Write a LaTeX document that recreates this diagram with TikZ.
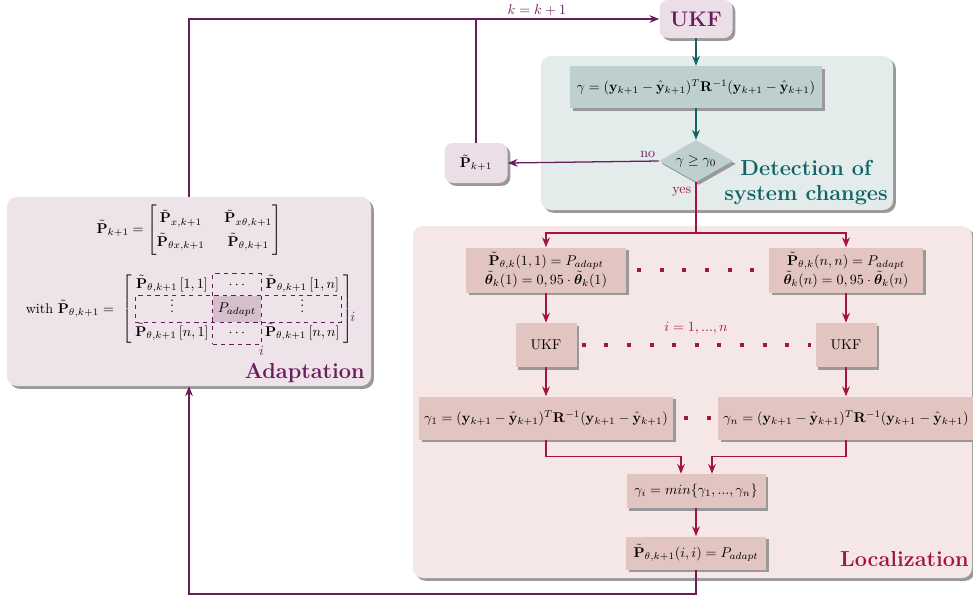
\documentclass[tikz,border=0pt]{standalone}
\usepackage{amsmath}
\usepackage{amssymb}
\usepackage{bm}
\usetikzlibrary{shapes.geometric,shadows,matrix,fit,calc,arrows.meta}

\definecolor{adpurple}{RGB}{106,27,92}
\definecolor{detteal}{RGB}{16,100,100}
\definecolor{loccrimson}{RGB}{163,21,64}
\definecolor{adbg}{RGB}{237,227,233}
\definecolor{detbg}{RGB}{228,235,235}
\definecolor{locbg}{RGB}{245,231,229}
\definecolor{detfill}{RGB}{189,208,207}
\definecolor{locfill}{RGB}{226,197,192}
\definecolor{ukffill}{RGB}{235,222,230}
\definecolor{cellhl}{RGB}{213,191,204}

\def\px{0.71pt}
\newcommand{\Ptil}{\tilde{\mathbf{P}}}
\newcommand{\yv}{\mathbf{y}}
\newcommand{\yh}{\hat{\mathbf{y}}}
\newcommand{\thv}{\tilde{\bm{\theta}}}

\begin{document}
\begin{tikzpicture}[x=\px, y=-\px, >={Stealth[length=7pt,width=5.5pt]}]
    \tikzstyle{boxshadow}=[drop shadow={shadow xshift=2pt, shadow yshift=-2pt, fill=black!40, opacity=1}]
    \tikzstyle{panel}=[rectangle, rounded corners=7pt, inner sep=0pt, boxshadow]
    \tikzstyle{ukfbox}=[rectangle, rounded corners=6pt, fill=ukffill, boxshadow, inner sep=2pt]
    \tikzstyle{detbox}=[rectangle, fill=detfill, boxshadow, inner sep=3pt]
    \tikzstyle{locbox}=[rectangle, fill=locfill, boxshadow, inner sep=3pt, align=center]
    \tikzstyle{paneltitle}=[font=\fontsize{15.4}{17.8}\selectfont\bfseries, inner sep=0pt]
    \tikzstyle{detline}=[->, draw=detteal, line width=0.9pt]
    \tikzstyle{locline}=[draw=loccrimson, line width=0.9pt]
    \tikzstyle{adline}=[draw=adpurple, line width=0.9pt]
    \tikzstyle{dotline}=[draw=loccrimson, line width=2.85pt, dash pattern=on 2.85pt off 13.2pt]
    \tikzstyle{dashbox}=[draw=adpurple, dashed, line width=0.8pt, inner sep=0pt]

    \useasboundingbox (0,0) rectangle (973,599);

    % background panels
    \node[panel, fill=detbg, minimum width=352*\px, minimum height=154*\px] (detect) at (717,133) {};
    \node[panel, fill=locbg, minimum width=559*\px, minimum height=352*\px] (local) at (692.5,402) {};
    \node[panel, fill=adbg, minimum width=364*\px, minimum height=189*\px] (adapt) at (189,291.5) {};

    % panel titles
    \node[paneltitle, text=detteal, align=center, anchor=south east] at (888,205) {Detection of\\system changes};
    \node[paneltitle, text=adpurple, anchor=base east] at (365,378) {Adaptation};
    \node[paneltitle, text=loccrimson, anchor=base east] at (969,566) {Localization};

    % detection of system changes
    \node[ukfbox, font=\fontsize{15}{17}\selectfont\bfseries, text=adpurple, minimum width=73*\px, minimum height=38*\px] (ukf) at (696,19) {UKF};
    \node[detbox, minimum width=252*\px, minimum height=42*\px] (gam) at (696,87)
        {$\gamma = (\yv_{k+1}-\yh_{k+1})^T\mathbf{R}^{-1}(\yv_{k+1}-\yh_{k+1})$};
    \node[diamond, fill=detfill, boxshadow, aspect=1.8, inner sep=0pt, minimum width=74*\px, minimum height=42*\px] (dec) at (696,161) {$\gamma \geq \gamma_0$};
    \node[ukfbox, minimum width=63*\px, minimum height=40*\px] (pk) at (476,163) {$\Ptil_{k+1}$};

    \draw[detline] (ukf) -- (gam);
    \draw[detline] (gam) -- (dec);
    \draw[adline, ->] (dec.west) -- node[pos=0, above left, text=adpurple, inner sep=2pt] {no} (pk.east);

    % localization
    \node[locbox, minimum width=160*\px, minimum height=45*\px] (set1) at (546,270)
        {$\Ptil_{\theta,k}(1,1) = P_{adapt}$\\$\thv_k(1) = 0,95\cdot\thv_k(1)$};
    \node[locbox, minimum width=154*\px, minimum height=45*\px] (setn) at (846,270)
        {$\Ptil_{\theta,k}(n,n) = P_{adapt}$\\$\thv_k(n) = 0,95\cdot\thv_k(n)$};
    \node[locbox, minimum width=61*\px, minimum height=44*\px] (ukf1) at (546,345) {UKF};
    \node[locbox, minimum width=61*\px, minimum height=44*\px] (ukfn) at (846,345) {UKF};
    \node[locbox, minimum width=254*\px, minimum height=43*\px] (gam1) at (546,418)
        {$\gamma_1 = (\yv_{k+1}-\yh_{k+1})^T\mathbf{R}^{-1}(\yv_{k+1}-\yh_{k+1})$};
    \node[locbox, minimum width=256*\px, minimum height=43*\px] (gamn) at (846,418)
        {$\gamma_n = (\yv_{k+1}-\yh_{k+1})^T\mathbf{R}^{-1}(\yv_{k+1}-\yh_{k+1})$};
    \node[locbox, minimum width=139*\px, minimum height=34*\px] (gmin) at (696,491) {$\gamma_i = min\{\gamma_1,...,\gamma_n\}$};
    \node[locbox, minimum width=140*\px, minimum height=33*\px] (pnew) at (696,553) {$\Ptil_{\theta,k+1}(i,i) = P_{adapt}$};

    \coordinate (split) at (696,233);
    \draw[locline] (dec.south) -- node[pos=0, below left, text=loccrimson, inner sep=3pt] {yes} (split);
    \draw[locline, ->] (split) -| (set1);
    \draw[locline, ->] (split) -| (setn);
    \draw[locline, ->] (set1) -- (ukf1);
    \draw[locline, ->] (setn) -- (ukfn);
    \draw[locline, ->] (ukf1) -- (gam1);
    \draw[locline, ->] (ukfn) -- (gamn);
    \draw[locline, ->] (gam1.south) |- ($(gmin.north)+(-15,-17)$) -- ($(gmin.north)+(-15,0)$);
    \draw[locline, ->] (gamn.south) |- ($(gmin.north)+(16,-17)$) -- ($(gmin.north)+(16,0)$);
    \draw[locline, ->] (gmin) -- (pnew);

    % dotted rows
    \draw[dotline, shorten <=7.8pt, shorten >=8.5pt] (set1) -- (setn);
    \draw[dotline, shorten <=3.5pt, shorten >=2.8pt] (ukf1) -- node[above=3pt, text=loccrimson] {$i=1,...,n$} (ukfn);
    \draw[dotline, shorten <=7.8pt, shorten >=4.3pt] (gam1) -- (gamn);

    % adaptation
    \node (peq) at (189,230) {$\Ptil_{k+1} = \renewcommand{\arraystretch}{1.4}\setlength{\arraycolsep}{7pt}\begin{bmatrix}
        \Ptil_{x,k+1} & \Ptil_{x\theta,k+1}\\
        \Ptil_{\theta x,k+1} & \Ptil_{\theta,k+1}\end{bmatrix}$};

    \matrix (pth) [matrix of math nodes, left delimiter={[}, right delimiter={]}, inner sep=0pt, row sep=0pt, column sep=2pt,
        nodes={anchor=center, minimum height=22*\px, text height=8pt, text depth=3pt, inner sep=1pt},
        row 2/.style={nodes={minimum height=26*\px}},
        column 1/.style={nodes={minimum width=73*\px}},
        column 2/.style={nodes={minimum width=48*\px}},
        column 3/.style={nodes={minimum width=77*\px}},
        row 2 column 2/.style={nodes={fill=cellhl}}] at (237.5,309) {
        \Ptil_{\theta,k+1}\,[1,1] & \cdots & \Ptil_{\theta,k+1}\,[1,n] \\
        \vdots & P_{adapt} & \vdots \\
        \Ptil_{\theta,k+1}\,[n,1] & \cdots & \Ptil_{\theta,k+1}\,[n,n] \\
    };
    \node[anchor=east] (with) at (119,309) {with $\Ptil_{\theta,k+1} =$};

    \node[dashbox, fit=(pth-1-2)(pth-3-2)] (colbox) {};
    \node[dashbox, fit=(pth-2-1)(pth-2-3)] (rowbox) {};
    \node[text=adpurple, anchor=north, inner sep=1pt] at (colbox.south east) {$i$};
    \node[text=adpurple, anchor=south west, inner sep=1pt] at ([xshift=5pt]rowbox.south east) {$i$};

    % feedback loops
    \draw[adline, ->] (adapt.north) |- node[pos=0.87, above, text=adpurple, inner sep=2pt] {$k=k+1$} (ukf.west);
    \draw[adline] (pk.north) -- (pk.north |- ukf.west);
    \coordinate (back) at (189,594);
    \draw[adline, ->] (pnew.south) |- (back) -- (adapt.south);
  \end{tikzpicture}
\end{document}
